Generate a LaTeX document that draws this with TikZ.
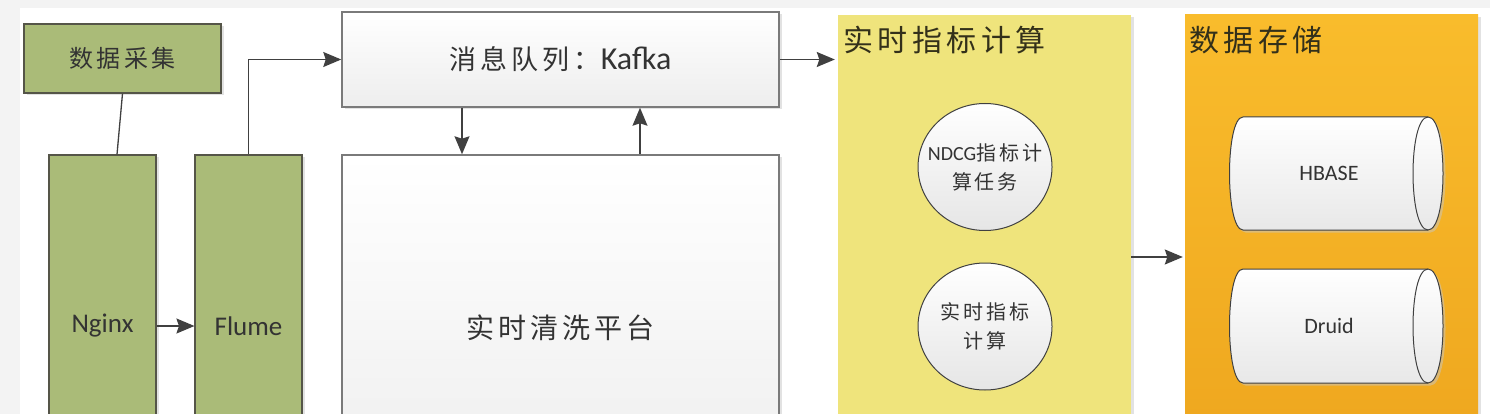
\documentclass[tikz,border=0pt]{standalone}
\usepackage{fontspec}
\setmainfont{Carlito}
\newfontfamily\cjk[LetterSpace=15]{Noto Sans CJK SC}
\usetikzlibrary{arrows.meta,shapes.geometric,shadows,calc}
\definecolor{bgout}{HTML}{F3F3F3}
\definecolor{greenfill}{HTML}{AABB78}
\definecolor{greenline}{HTML}{555548}
\definecolor{boxline}{HTML}{7A7A7A}
\definecolor{yellowfill}{HTML}{EFE47C}
\definecolor{orangetop}{HTML}{F9BC2C}
\definecolor{orangebot}{HTML}{EDA41D}
\definecolor{arrowcol}{HTML}{404040}
\definecolor{txt}{HTML}{333333}
\definecolor{titletxt}{HTML}{33301A}
\tikzset{
  shadowed/.style={drop shadow={shadow xshift=2.5pt,shadow yshift=-2.5pt,fill=black!22}},
  greenbox/.style={draw=greenline,line width=1.1pt,fill=greenfill,inner sep=0pt,shadowed,text=txt},
  greybox/.style={draw=boxline,line width=1.5pt,top color=white,bottom color=black!7,inner sep=0pt,shadowed,text=txt},
  panel/.style={draw=none,inner sep=0pt,shadowed},
  ball/.style={ellipse,draw=black!75,line width=1pt,top color=white,bottom color=black!10,inner sep=0pt,
    minimum width=134pt,minimum height=127pt},
  balltext/.style={inner sep=0pt,align=center,text=txt,font=\fontsize{20}{29}\selectfont},
  cylnode/.style={draw=none,inner sep=0pt,text=txt,font=\fontsize{22}{24}\selectfont},
  cylline/.style={draw=black!75,line width=1pt},
  arr/.style={draw=arrowcol,line width=1.4pt,-{Stealth[length=18pt,width=15pt,inset=2.5pt]}},
  plain/.style={draw=arrowcol,line width=1.3pt},
  paneltitle/.style={anchor=west,inner sep=0pt,text=titletxt,font=\fontsize{30}{34}\selectfont\cjk},
}
\begin{document}
\begin{tikzpicture}[x=1pt,y=-1pt]
\useasboundingbox (0,0) rectangle (1490,414);
\fill[bgout] (0,0) rectangle (1490,414);
\fill[white] (20,8) rectangle (1490,414);

% panels
\node[panel,fill=yellowfill,minimum width=293pt,minimum height=484pt] (calc) at (984.5,257) {};
\node[panel,top color=orangetop,bottom color=orangebot,minimum width=293pt,minimum height=484pt] (store) at (1331.5,257) {};
\node[paneltitle] (calctitle) at (843,40) {实时指标计算};
\node[paneltitle] (storetitle) at (1189,40) {数据存储};

% left part
\node[greenbox,minimum width=197pt,minimum height=69pt,font=\fontsize{24}{26}\selectfont\cjk] (collect) at (122.5,58.5) {数据采集};
\node[greenbox,minimum width=107pt,minimum height=342pt,font=\fontsize{27}{28}\selectfont] (nginx) at (102.5,326) {Nginx};
\node[greenbox,minimum width=107pt,minimum height=342pt,font=\fontsize{27}{28}\selectfont] (flume) at (248.5,326) {Flume};
\node[greybox,minimum width=437pt,minimum height=95pt] (kafka) at (560.5,59.5) {{\fontsize{27}{30}\selectfont\cjk 消息队列：}{\fontsize{32}{30}\selectfont Kafka}};
\node[greybox,minimum width=437pt,minimum height=346pt,font=\fontsize{28}{30}\selectfont\cjk] (clean) at (560.5,328) {实时清洗平台};

% balls
\node[ball] (ndcg) at (985,167) {};
\node[balltext] (ndcgtext) at (ndcg.center) {NDCG{\cjk 指标计}\\{\cjk 算任务}};
\node[ball] (rt) at (985,326.5) {};
\node[balltext] (rttext) at (rt.center) {{\cjk 实时指标}\\{\cjk 计算}};

% cylinders
\node[cylnode,minimum width=198pt,minimum height=113pt] (hbase) at (1329,173.5) {};
\node[cylnode,minimum width=198pt,minimum height=114pt] (druid) at (1329,326) {};
\path[cylline,top color=white,bottom color=black!9,shadowed]
    ($(hbase.center)+(-86,-56.5)$) -- ($(hbase.center)+(99,-56.5)$)
    .. controls +(20,0) and +(20,0) .. ($(hbase.center)+(99,56.5)$)
    -- ($(hbase.center)+(-86,56.5)$)
    .. controls +(-18,0) and +(-18,0) .. ($(hbase.center)+(-86,-56.5)$) -- cycle;
\draw[cylline] ($(hbase.center)+(99,-56.5)$) .. controls +(-20,0) and +(-20,0) .. ($(hbase.center)+(99,56.5)$);
\node[cylnode] (hbasetext) at (hbase.center) {HBASE};
\path[cylline,top color=white,bottom color=black!9,shadowed]
    ($(druid.center)+(-86,-57)$) -- ($(druid.center)+(99,-57)$)
    .. controls +(20,0) and +(20,0) .. ($(druid.center)+(99,57)$)
    -- ($(druid.center)+(-86,57)$)
    .. controls +(-18,0) and +(-18,0) .. ($(druid.center)+(-86,-57)$) -- cycle;
\draw[cylline] ($(druid.center)+(99,-57)$) .. controls +(-20,0) and +(-20,0) .. ($(druid.center)+(99,57)$);
\node[cylnode] (druidtext) at (druid.center) {Druid};

% connectors
\draw[plain] (collect.south) -- ([xshift=-5.5pt]collect.south |- nginx.north);
\draw[arr] (nginx.east) -- (flume.west);
\draw[arr] (flume.north) |- (kafka.west);
\draw[arr] ([xshift=-98.5pt]kafka.south) -- ([xshift=-98.5pt]clean.north);
\draw[arr] ([xshift=79.5pt]clean.north) -- ([xshift=79.5pt]kafka.south);
\draw[arr] (kafka.east) -- ([xshift=-3pt]kafka.east -| calc.west);
\draw[arr] (calc.east) -- ([xshift=-2pt]store.west);
\end{tikzpicture}
\end{document}
